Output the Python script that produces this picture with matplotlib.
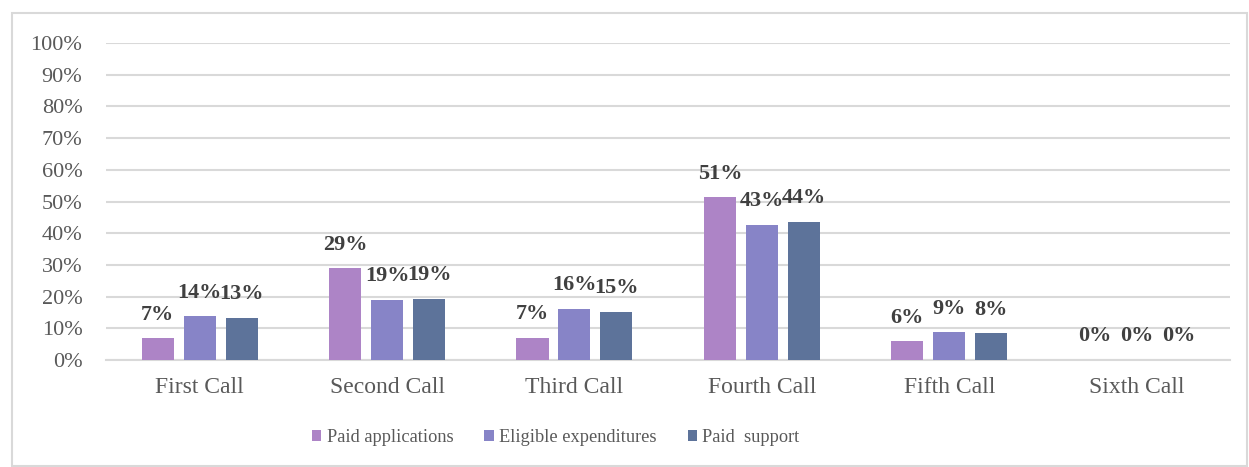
import matplotlib
matplotlib.use("Agg")
import matplotlib.pyplot as plt
import numpy as np
from matplotlib.patches import Rectangle

# Share of each call, by measure
categories = ["First Call", "Second Call", "Third Call", "Fourth Call", "Fifth Call", "Sixth Call"]
paid_applications = [0.068, 0.289, 0.070, 0.513, 0.059, 0.0]
eligible_expenditures = [0.138, 0.190, 0.161, 0.427, 0.087, 0.0]
paid_support = [0.134, 0.194, 0.152, 0.436, 0.084, 0.0]
series_names = ["Paid applications", "Eligible expenditures", "Paid  support"]
y_ticks = [0.0, 0.1, 0.2, 0.3, 0.4, 0.5, 0.6, 0.7, 0.8, 0.9, 1.0]

colors = ["#AD84C6", "#8784C7", "#5D739A"]
plt.rcParams["font.family"] = ["Liberation Serif", "DejaVu Serif"]

fig = plt.figure(figsize=(12.49, 4.67), dpi=100)
ax = fig.add_axes([0.0849, 0.229, 0.9001, 0.679])

x = np.arange(len(categories))
width = 0.171
step = 0.224
for i, (vals, name, col) in enumerate(zip([paid_applications, eligible_expenditures, paid_support], series_names, colors)):
    pos = x + (i - 1) * step
    ax.bar(pos, vals, width=width, color=col, label=name, zorder=3)
    for px, v in zip(pos, vals):
        ax.annotate(f"{v*100:.0f}%", (px, v), xytext=(0, 17), textcoords="offset points",
                    ha="center", va="center", fontsize=16, fontweight="bold", color="#404040", zorder=4)

ax.set_xlim(-0.5, len(categories) - 0.5)
ax.set_ylim(0, 1.0)
ax.set_yticks(y_ticks)
ax.set_yticklabels([f"{t*100:.0f}%" for t in y_ticks])
ax.set_xticks(x)
ax.set_xticklabels(categories)
ax.yaxis.grid(True, color="#D9D9D9", linewidth=1.5, zorder=0)
ax.set_axisbelow(True)
for s in ["top", "right", "left"]:
    ax.spines[s].set_visible(False)
ax.spines["bottom"].set_color("#D9D9D9")
ax.spines["bottom"].set_linewidth(1.5)
ax.tick_params(axis="y", length=0, pad=17, labelsize=16, labelcolor="#595959")
ax.tick_params(axis="x", length=0, pad=12, labelsize=17, labelcolor="#595959")

leg = fig.legend(loc="center", bbox_to_anchor=(0.445, 0.063), ncol=3, frameon=False,
                 fontsize=13.2, handlelength=0.5, handleheight=0.5, handletextpad=0.3,
                 columnspacing=1.7)
for t in leg.get_texts():
    t.set_color("#595959")

fig.patches.append(Rectangle((12 / 1249, 1 / 467), 1235 / 1249, 453 / 467, transform=fig.transFigure,
                             fill=False, edgecolor="#D9D9D9", linewidth=1.5))

fig.savefig("out.png", dpi=100)
